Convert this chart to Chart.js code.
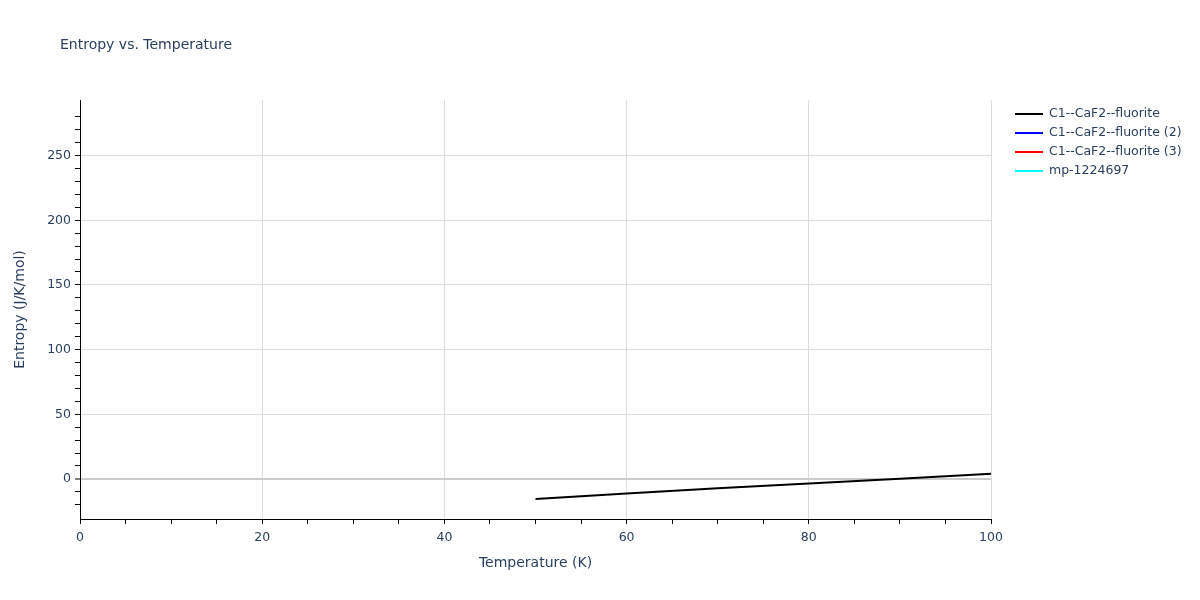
<!DOCTYPE html>
<html>
<head>
<meta charset="utf-8">
<script src="https://cdn.jsdelivr.net/npm/chart.js@4.4.1/dist/chart.umd.min.js"></script>
<style>
  html, body { margin: 0; padding: 0; background: #fff; }
  #wrap { width: 1200px; height: 600px; }
</style>
</head>
<body>
<div id="wrap"><canvas id="entropyChart" width="1200" height="600"></canvas></div>
<script>
// Series data
const seriesNames = ['C1--CaF2--fluorite', 'C1--CaF2--fluorite (2)', 'C1--CaF2--fluorite (3)', 'mp-1224697'];
const seriesColors = ['#000000', '#0000ff', '#ff0000', '#00ffff'];
const temps1 = [50, 60, 70, 80, 90, 100];
const entropy1 = [-15.5, -11.3, -7.3, -3.5, 0.2, 3.9];
// other series have no visible points in the shown range
const temps2 = [];
const entropy2 = [];
const temps3 = [];
const entropy3 = [];
const temps4 = [];
const entropy4 = [];

const xMin = 0, xMax = 100;
const yMin = -31, yMax = 293;

const FONT = '"DejaVu Sans", Verdana, sans-serif';
const TEXT = '#2a3f5f';

function toPoints(xs, ys) {
    return xs.map((x, i) => ({ x: x, y: ys[i] }));
}

const allSeries = [[temps1, entropy1], [temps2, entropy2], [temps3, entropy3], [temps4, entropy4]];

const datasets = allSeries.map(([xs, ys], i) => ({
    label: seriesNames[i],
    data: toPoints(xs, ys),
    borderColor: seriesColors[i],
    backgroundColor: seriesColors[i],
    borderWidth: 2,
    pointRadius: 0,
    tension: 0,
    fill: false
}));

// Title + legend drawn in plotly style
const decorPlugin = {
    id: 'decor',
    afterDraw(chart) {
        const ctx = chart.ctx;
        ctx.save();
        ctx.fillStyle = TEXT;
        ctx.font = '14px ' + FONT;
        ctx.textBaseline = 'middle';
        ctx.textAlign = 'left';
        ctx.fillText('Entropy vs. Temperature', 60, 45);

        ctx.font = '12.5px ' + FONT;
        chart.data.datasets.forEach((ds, i) => {
            const y = 114 + i * 19;
            ctx.strokeStyle = ds.borderColor;
            ctx.lineWidth = 2;
            ctx.beginPath();
            ctx.moveTo(1015, y);
            ctx.lineTo(1043, y);
            ctx.stroke();
            ctx.fillStyle = TEXT;
            ctx.fillText(ds.label, 1049, y);
        });
        ctx.restore();
    }
};

const isMult = (v, m) => Math.abs(v / m - Math.round(v / m)) < 1e-6;

new Chart(document.getElementById('entropyChart').getContext('2d'), {
    type: 'line',
    data: { datasets: datasets },
    plugins: [decorPlugin],
    options: {
        responsive: false,
        animation: false,
        layout: { padding: { left: 12, top: 100, right: 209, bottom: 28 } },
        plugins: {
            legend: { display: false },
            title: { display: false },
            tooltip: { enabled: false }
        },
        scales: {
            x: {
                type: 'linear',
                min: xMin,
                max: xMax,
                afterFit: (s) => { s.height = 53; },
                border: { color: '#000', width: 1 },
                grid: {
                    color: (c) => (c.tick && isMult(c.tick.value, 20) && c.tick.value !== 0) ? '#dddddd' : 'rgba(0,0,0,0)',
                    tickColor: '#000',
                    tickLength: 5,
                    drawTicks: true
                },
                ticks: {
                    stepSize: 5,
                    autoSkip: false,
                    maxRotation: 0,
                    padding: 6,
                    color: TEXT,
                    font: { family: FONT, size: 12.5 },
                    callback: (v) => isMult(v, 20) ? String(v) : ''
                },
                title: {
                    display: true,
                    text: 'Temperature (K)',
                    color: TEXT,
                    font: { family: FONT, size: 14 },
                    padding: { top: 12, bottom: 0 }
                }
            },
            y: {
                type: 'linear',
                min: yMin,
                max: yMax,
                afterFit: (s) => { s.width = 68; },
                border: { color: '#000', width: 1 },
                grid: {
                    color: (c) => {
                        if (!c.tick) return 'rgba(0,0,0,0)';
                        if (c.tick.value === 0) return '#cccccc';
                        return isMult(c.tick.value, 50) ? '#dddddd' : 'rgba(0,0,0,0)';
                    },
                    lineWidth: (c) => (c.tick && c.tick.value === 0) ? 2 : 1,
                    tickColor: (c) => (c.tick && isMult(c.tick.value, 10)) ? '#000' : 'rgba(0,0,0,0)',
                    tickWidth: 1,
                    tickLength: 5,
                    drawTicks: true
                },
                ticks: {
                    stepSize: 10,
                    autoSkip: false,
                    padding: 4,
                    color: TEXT,
                    font: { family: FONT, size: 12.5 },
                    callback: (v) => isMult(v, 50) ? String(v) : ''
                },
                title: {
                    display: true,
                    text: 'Entropy (J/K/mol)',
                    color: TEXT,
                    font: { family: FONT, size: 14 },
                    padding: { top: 0, bottom: 0 }
                }
            }
        }
    }
});
</script>
</body>
</html>
